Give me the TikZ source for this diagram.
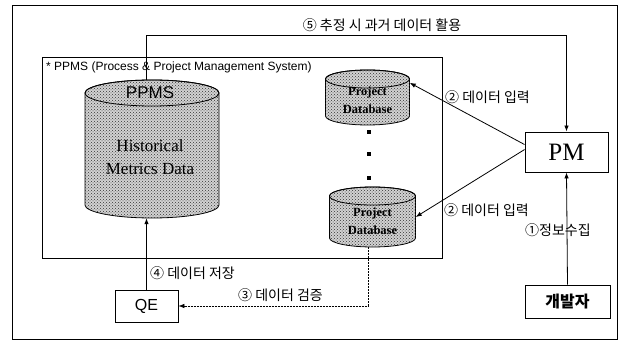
\documentclass[tikz,border=0pt]{standalone}
\usepackage{fontspec}
\setmainfont{Liberation Serif}
\setsansfont{Liberation Sans}
\newfontfamily\kr{Noto Sans CJK KR}
\usetikzlibrary{arrows.meta,patterns,calc}
\tikzset{
  conn/.style={line width=0.8pt, -{Latex[length=6pt,width=4.5pt]}},
  box/.style={draw, line width=0.9pt, fill=white, inner sep=0pt},
  lbl/.style={font=\kr\fontsize{14}{16}\selectfont, inner sep=0pt, anchor=west},
  dbfill/.style={fill=gray!35, postaction={pattern=crosshatch dots, pattern color=black!80}},
  dbtext/.style={font=\bfseries\fontsize{12.5}{18}\selectfont, align=center, inner sep=0pt},
}
\newcommand\dbcyl[6]{% name, cx, top, bottom, rx, ry
  \path[dbfill, draw, line width=0.8pt] (#2-#5, #3+#6) -- (#2-#5, #4-#6)
     arc[start angle=180, end angle=360, x radius=#5pt, y radius=#6pt]
     -- (#2+#5, #3+#6)
     arc[start angle=0, end angle=180, x radius=#5pt, y radius=#6pt] -- cycle;
  \draw[line width=0.8pt] (#2,#3+#6) ellipse[x radius=#5pt, y radius=#6pt];
  \node[inner sep=0pt, minimum width={2*#5pt}, minimum height={(#4-#3)*1pt}] (#1) at (#2, {(#3+#4)/2}) {};
}
\begin{document}
\begin{tikzpicture}[x=1pt,y=-1pt]
\useasboundingbox (0,0) rectangle (621,342);
\draw[line width=0.6pt] (12,5) rectangle (617,339);

% inner system box
\node[draw, line width=0.8pt, minimum width=400pt, minimum height=201pt, anchor=north west, inner sep=0pt] (ppms) at (42,57) {};
\node[font=\sffamily\fontsize{12}{13}\selectfont, inner sep=0pt, anchor=west] (ppmslbl) at (46,67) {* PPMS (Process \& Project Management System)};

% cylinders
\dbcyl{hist}{152}{80}{218}{67}{13}
\dbcyl{db1}{367.5}{70}{125}{42}{9}
\dbcyl{db2}{372.5}{187}{247}{43}{9}

\node[font=\sffamily\fontsize{17}{18}\selectfont, inner sep=0pt] (ppmst) at (150,93) {PPMS};
\node[font=\fontsize{17}{23}\selectfont, align=center, inner sep=0pt] (histt) at (150,157) {Historical\\Metrics Data};
\node[dbtext] (db1t) at (367.5,100) {Project\\Database};
\node[dbtext] (db2t) at (372.5,221) {Project\\Database};

% dots
\foreach \yy in {132,154,178} \fill (368.5,\yy) ++(-2,-2) rectangle ++(4,4);

% boxes
\node[box, minimum width=83pt, minimum height=40pt, font=\fontsize{25}{26}\selectfont] (pm) at (566.5,152) {PM};
\node[box, minimum width=85pt, minimum height=33pt, font=\kr\bfseries\fontsize{16}{18}\selectfont] (dev) at (567.5,301.5) {개발자};
\node[box, minimum width=63pt, minimum height=32pt, font=\sffamily\fontsize{16}{18}\selectfont] (qe) at (146.5,306) {QE};

% connectors
\draw[conn] (hist.north -| qe.north) -- (qe.north |- 0,35) -| (pm.north);
\draw[conn] ($(pm.north west)+(0,13)$) -- ($(db1.north east)+(0,13)$);
\draw[conn] ($(pm.north west)+(0,18)$) -- (db2.east);
\draw[conn] (dev.north) -- (pm.south);
\draw[conn] (qe.north) -- (qe.north |- hist.south);
\draw[conn, dash pattern=on 2pt off 1pt, line width=0.6pt] ($(db2.south)+(-4,0)$) |- (qe.east);

% labels
\node[lbl, anchor=center] (l5) at (382,25) {⑤ 추정 시 과거 데이터 활용};
\node[lbl] (l2a) at (445,97) {② 데이터 입력};
\node[lbl] (l2b) at (444,210) {② 데이터 입력};
\node[lbl] (l1) at (525,230) {①정보수집};
\node[lbl] (l4) at (150,273) {④ 데이터 저장};
\node[lbl] (l3) at (238,295) {③ 데이터 검증};
\end{tikzpicture}
\end{document}
